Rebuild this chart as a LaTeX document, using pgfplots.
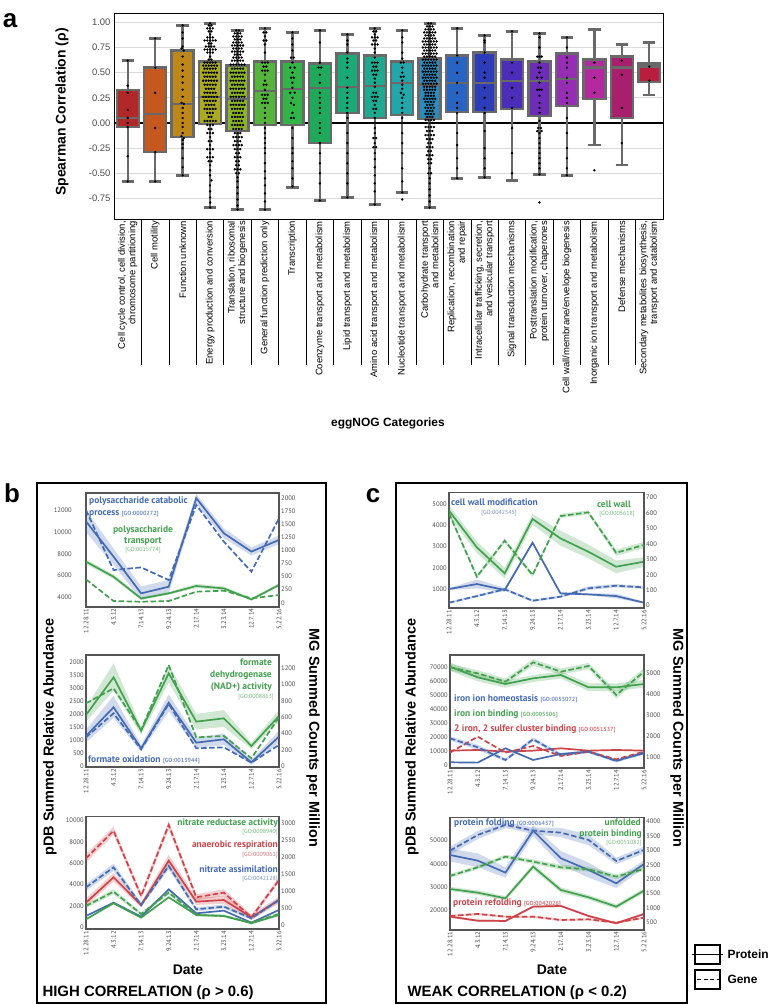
\documentclass[border=0pt]{standalone}
\usepackage{fontspec}
\setmainfont{Liberation Sans}
\newfontfamily\pts{PT Sans}
\usepackage{pgfplots}
\pgfplotsset{compat=1.18}
\usepgfplotslibrary{statistics}

\definecolor{bxgray}{RGB}{105,105,105}
\definecolor{tickgray}{RGB}{75,75,75}
\definecolor{framegray}{RGB}{85,85,85}
\definecolor{pb}{RGB}{68,106,178}
\definecolor{pg}{RGB}{66,160,78}
\definecolor{pr}{RGB}{205,67,73}
\definecolor{ca}{RGB}{178,40,40}
\definecolor{cb}{RGB}{196,88,30}
\definecolor{cc}{RGB}{190,135,25}
\definecolor{cd}{RGB}{170,170,35}
\definecolor{ce}{RGB}{140,180,40}
\definecolor{cf}{RGB}{85,180,60}
\definecolor{cg}{RGB}{50,180,70}
\definecolor{ch}{RGB}{30,170,90}
\definecolor{ci}{RGB}{25,170,120}
\definecolor{cj}{RGB}{30,170,145}
\definecolor{ck}{RGB}{35,165,170}
\definecolor{cl}{RGB}{40,140,190}
\definecolor{cm}{RGB}{40,100,195}
\definecolor{cn}{RGB}{45,60,185}
\definecolor{co}{RGB}{75,45,185}
\definecolor{cp}{RGB}{110,45,185}
\definecolor{cq}{RGB}{150,45,180}
\definecolor{cr}{RGB}{180,40,160}
\definecolor{cs}{RGB}{170,30,110}
\definecolor{ct}{RGB}{185,30,60}

\newcommand\tickf{\pts\fontsize{6.6}{7}\selectfont}
\newcommand\annf{\pts\bfseries\fontsize{9.5}{10}\selectfont}
\newcommand\gof{\pts\fontsize{6}{7}\selectfont}

% boxplot from its five numbers: position, lw, lq, median, uq, uw, colour
\newcommand\bx[7]{\addplot[boxplot prepared={draw position=#1, lower whisker=#2,
  lower quartile=#3, median=#4, upper quartile=#5, upper whisker=#6,
  box extend=0.8, whisker extend=0.45, draw direction=y}, draw=bxgray, line width=2.4bp, fill=#7, solid]
  coordinates {};}

\pgfplotsset{
  sub/.style={scale only axis, xmin=0, xmax=7, clip=true, tick pos=left,
    xtick={0,...,7},
    xticklabels={12.28.11,4.3.12,7.14.13,9.24.13,2.17.14,3.23.14,12.7.14,5.22.16},
    xticklabel style={rotate=90, anchor=east, font=\tickf, text=tickgray, inner sep=1.5bp},
    yticklabel style={font=\tickf, text=tickgray, inner sep=2bp},
    major tick length=0pt, scaled y ticks=false,
    axis line style={draw=framegray, line width=1.6bp},
    /pgf/number format/1000 sep={}, /pgf/number format/assume math mode=true},
  subr/.style={sub, axis x line=none, axis y line*=right, ytick pos=right, yticklabel pos=right},
  sol/.style={line width=1.7bp},
  das/.style={line width=1.7bp, dash pattern=on 5.5bp off 2.5bp},
  band/.style={draw=none, fill=#1, fill opacity=0.25},
}

\begin{document}
\begin{tikzpicture}
\useasboundingbox (0,0) rectangle (770bp,1005bp);

% ---------------- panel a ----------------
\begin{axis}[
  at={(114bp,786bp)}, anchor=south west, scale only axis,
  width=549bp, height=206bp,
  xmin=-0.5, xmax=19.5, ymin=-0.954, ymax=1.093,
  tick pos=left, tick align=outside,
  xtick={0,...,19}, major tick length=0pt,
  minor xtick={0.5,1.5,...,18.5}, minor tick length=146bp,
  minor x tick style={black, line width=0.7bp},
  xticklabels={{Cell cycle control, cell division,\\chromosome partitioning},
    Cell motility, Function unknown, Energy production and conversion,
    {Translation, ribosomal\\structure and biogenesis},
    General function prediction only, Transcription,
    Coenzyme transport and metabolism, Lipid transport and metabolism,
    Amino acid transport and metabolism, Nucleotide transport and metabolism,
    {Carbohydrate transport\\and metabolism},
    {Replication, recombination\\and repair},
    {Intracellular trafficking, secretion,\\and vesicular transport},
    Signal transduction mechanisms,
    {Posttranslation modification,\\protein turnover, chaperones},
    Cell wall/membrane/envelope biogenesis,
    Inorganic ion transport and metabolism, Defense mechanisms,
    {Secondary metabolites biosynthesis,\\transport and catabolism}},
  xticklabel style={rotate=90, anchor=east, align=right,
    font=\fontsize{9.5}{10.5}\selectfont, inner sep=2bp},
  ytick={-0.75,-0.5,-0.25,0,0.25,0.5,0.75,1},
  yticklabels={-0.75,-0.50,-0.25,0.00,0.25,0.50,0.75,1.00},
  yticklabel style={font=\fontsize{9.5}{10}\selectfont, text=tickgray},
  ymajorgrids, grid style={draw=gray!30, line width=1.1bp},
  axis line style={black, line width=0.9bp},
]
\addplot[black, line width=1.2bp] coordinates {(-0.5,0) (19.5,0)};

\bx{0}{-0.58}{-0.04}{0.05}{0.33}{0.62}{ca}
\bx{1}{-0.58}{-0.29}{0.09}{0.55}{0.84}{cb}
\bx{2}{-0.52}{-0.14}{0.19}{0.72}{0.97}{cc}
\bx{3}{-0.84}{-0.01}{0.26}{0.61}{0.99}{cd}
\bx{4}{-0.86}{-0.08}{0.24}{0.57}{0.92}{ce}
\bx{5}{-0.86}{-0.02}{0.32}{0.61}{0.94}{cf}
\bx{6}{-0.64}{-0.02}{0.34}{0.61}{0.90}{cg}
\bx{7}{-0.77}{-0.20}{0.35}{0.59}{0.92}{ch}
\bx{8}{-0.74}{0.10}{0.36}{0.69}{0.88}{ci}
\bx{9}{-0.81}{0.05}{0.37}{0.67}{0.94}{cj}
\bx{10}{-0.69}{0.08}{0.40}{0.61}{0.92}{ck}
\bx{11}{-0.84}{0.04}{0.38}{0.64}{0.99}{cl}
\bx{12}{-0.55}{0.11}{0.40}{0.67}{0.94}{cm}
\bx{13}{-0.54}{0.11}{0.40}{0.70}{0.87}{cn}
\bx{14}{-0.57}{0.14}{0.42}{0.63}{0.91}{co}
\bx{15}{-0.51}{0.07}{0.42}{0.61}{0.89}{cp}
\bx{16}{-0.52}{0.17}{0.44}{0.69}{0.85}{cq}
\bx{17}{-0.22}{0.24}{0.55}{0.63}{0.93}{cr}
\bx{18}{-0.42}{0.05}{0.55}{0.66}{0.78}{cs}
\bx{19}{0.28}{0.41}{0.56}{0.59}{0.80}{ct}

% swarm points, sparse categories
\addplot[only marks, mark=*, mark size=1bp, black] coordinates {
(0,.62)(0,.37)(0,.30)(0,.13)(0,.05)(0,0)(0,-.04)(0,-.33)(0,-.58)
(1,.84)(1,.55)(1,.30)(1,-.05)(1,-.29)(1,-.58)
(2,.97)(2,.90)(2,.84)(2,.76)(1.96,.74)(2.04,.72)(2,.66)(2,.58)(2,.52)(2,.46)(2,.40)
(2,.33)(2,.26)(1.96,.20)(2.04,.19)(2,.15)(2,.10)(2,.05)(2,0)(2,-.04)(2,-.10)(1.96,-.13)
(2.04,-.15)(2,-.17)(2,-.21)(2,-.25)(2,-.35)(2,-.44)(2,-.52)
(5,.94)(4.95,.9)(5.05,.9)(5,.86)(4.95,.82)(5.05,.82)(5,.78)(5,.7)(4.9,.6)(5,.6)(5.1,.6)
(4.95,.56)(5.05,.56)(4.9,.52)(5,.52)(5.1,.52)(5,.48)(5,.42)(4.95,.38)(5.05,.38)(5,.33)
(4.9,.28)(5,.28)(5.1,.28)(4.95,.24)(5.05,.24)(4.9,.2)(5,.2)(5.1,.2)(5,.15)(5,.1)(5,.05)
(5,0)(5,-.05)(5,-.1)(5,-.15)(5,-.2)(5,-.25)(5,-.3)(5,-.4)(5,-.48)(5,-.55)(5,-.62)(5,-.7)(5,-.78)(5,-.86)
(6,.9)(6,.84)(6,.78)(6,.72)(5.95,.65)(6.05,.65)(6,.6)(5.92,.55)(6.08,.55)(6,.5)(5.95,.45)
(6.05,.45)(6,.4)(6,.35)(5.92,.3)(6.08,.3)(6,.25)(5.95,.2)(6.05,.18)(6,.1)(5.95,.05)(6.05,.05)
(6,-.05)(6,-.15)(6,-.25)(6,-.3)(6,-.38)(6,-.45)(6,-.55)(6,-.63)
(7,.92)(7,.8)(7,.6)(6.95,.55)(7.05,.55)(7,.48)(7,.4)(7,.3)(7,.25)(7,.2)(7,.15)(7,.1)
(7,0)(7,-.05)(7,-.1)(7,-.2)(7,-.3)(7,-.4)(7,-.5)(7,-.6)(7,-.77)
(8,.88)(8,.82)(8,.78)(8,.7)(8,.64)(8,.6)(8,.55)(8,.45)(8,.35)(8,.3)(8,.25)(8,.2)(8,.15)
(8,.1)(8,.05)(8,-.1)(8,-.2)(8,-.3)(8,-.4)(8,-.5)(8,-.6)(8,-.74)
(9,.94)(8.95,.91)(9.05,.91)(9,.88)(8.9,.85)(9,.85)(9.1,.85)(8.95,.82)(9.05,.82)(8.9,.78)(9,.78)
(9.1,.78)(9,.74)(9,.7)(9,.65)(8.9,.6)(9,.6)(9.1,.6)(8.95,.56)(9.05,.56)(8.9,.52)(9,.52)
(9.1,.52)(8.95,.48)(9.05,.48)(9,.44)(9,.4)(9,.36)(8.95,.3)(9.05,.3)(8.9,.26)(9,.26)(9.1,.26)
(8.95,.22)(9.05,.22)(9,.18)(8.95,.14)(9.05,.14)(9,.1)(9,.05)(9,0)(9,-.05)(9,-.1)(8.95,-.15)
(9.05,-.15)(9,-.2)(8.95,-.24)(9.05,-.24)(9,-.3)(9,-.36)(9,-.44)(9,-.52)(9,-.6)(9,-.68)(9,-.81)
(10,.92)(10,.85)(10,.8)(10,.7)(10,.64)(9.95,.6)(10.05,.6)(10,.55)(10,.5)(9.95,.46)(10.05,.46)
(10,.42)(10,.38)(10,.34)(9.95,.3)(10.05,.28)(10,.25)(10,.2)(10,.15)(10,.1)(10,.05)(10,0)
(10,-.1)(10,-.2)(10,-.3)(10,-.45)(10,-.58)(10,-.69)(10,-.76)
(12,.94)(12,.67)(12,.6)(12,.5)(12,.4)(12,.3)(12,.2)(12,.15)(12,.1)(12,-.1)(12,-.22)(12,-.35)(12,-.45)(12,-.55)
(13,.87)(13,.82)(13,.8)(13,.7)(13,.6)(13,.5)(13,.45)(13,.35)(13,.25)(13,.15)(13,.1)
(13,-.08)(13,-.25)(13,-.35)(13,-.45)(13,-.54)
(14,.91)(14,.6)(14,.5)(14,.35)(14,.25)(14,.15)(14,-.05)(14,-.3)(14,-.5)
(15,.89)(15,.85)(15,.75)(14.92,.66)(15,.66)(15.08,.66)(15,.6)(14.95,.55)(15.05,.55)(15,.5)
(14.92,.45)(15.08,.45)(15,.4)(14.92,.33)(15,.33)(15.08,.33)(15,.27)(15,.2)(15,.15)(15,.1)
(15,.02)(14.95,-.05)(15.05,-.05)(14.92,-.08)(15.08,-.08)(15,-.1)(15,-.15)(15,-.2)(15,-.25)
(15,-.3)(15,-.35)(15,-.4)(15,-.45)(15,-.51)(15,-.79)
(16,.85)(16,.75)(16,.65)(16,.6)(16,.55)(16,.45)(16,.4)(16,.3)(16,.25)(16,.2)(16,.05)
(16,-.1)(16,-.25)(16,-.35)(16,-.45)(16,-.52)
(17,.6)(17,.45)(17,.3)(17,-.47)
(18,.62)(18,.48)(18,.15)(18,-.2)
(19,.56)(19,.42)
};
% swarm points, energy production
\addplot[only marks, mark=*, mark size=1bp, black] coordinates {
(3,.99)(2.95,.97)(3.05,.97)(2.9,.94)(3,.94)(3.1,.94)(2.95,.91)(3.05,.91)(3,.88)(2.9,.85)
(3,.85)(3.1,.85)(2.8,.82)(2.9,.82)(3,.82)(3.1,.82)(3.2,.82)(2.95,.79)(3.05,.79)(2.85,.76)
(2.95,.76)(3.05,.76)(3.15,.76)(2.8,.73)(2.9,.73)(3,.73)(3.1,.73)(3.2,.73)(2.9,.7)(3,.7)
(3.1,.7)(3,.66)(2.95,.63)(3.05,.63)(2.8,.6)(2.9,.6)(3,.6)(3.1,.6)(3.2,.6)(2.75,.57)
(2.85,.57)(2.95,.57)(3.05,.57)(3.15,.57)(3.25,.57)(2.8,.54)(2.9,.54)(3,.54)(3.1,.54)(3.2,.54)
(2.75,.5)(2.85,.5)(2.95,.5)(3.05,.5)(3.15,.5)(3.25,.5)(2.8,.46)(2.9,.46)(3,.46)(3.1,.46)
(3.2,.46)(2.75,.42)(2.85,.42)(2.95,.42)(3.05,.42)(3.15,.42)(3.25,.42)(2.8,.38)(2.9,.38)(3,.38)
(3.1,.38)(3.2,.38)(2.85,.34)(2.95,.34)(3.05,.34)(3.15,.34)(2.8,.3)(2.9,.3)(3,.3)(3.1,.3)
(3.2,.3)(2.75,.26)(2.85,.26)(2.95,.26)(3.05,.26)(3.15,.26)(3.25,.26)(2.8,.22)(2.9,.22)(3,.22)
(3.1,.22)(3.2,.22)(2.85,.18)(2.95,.18)(3.05,.18)(3.15,.18)(2.8,.14)(2.9,.14)(3,.14)(3.1,.14)
(3.2,.14)(2.9,.1)(3,.1)(3.1,.1)(2.95,.06)(3.05,.06)(2.8,.02)(2.9,.02)(3,.02)(3.1,.02)
(3.2,.02)(2.9,-.02)(3,-.02)(3.1,-.02)(2.95,-.06)(3.05,-.06)(2.9,-.1)(3,-.1)(3.1,-.1)(3,-.14)
(2.95,-.18)(3.05,-.18)(3,-.22)(2.9,-.26)(3,-.26)(3.1,-.26)(3,-.3)(2.9,-.34)(3,-.34)(3.1,-.34)
(2.95,-.38)(3.05,-.38)(3,-.42)(3,-.47)(3,-.52)(3.05,-.57)(3,-.62)(3,-.68)(3,-.74)(3,-.79)(3,-.84)
};
% swarm points, translation
\addplot[only marks, mark=*, mark size=1bp, black] coordinates {
(3.95,.92)(4.05,.92)(3.9,.89)(4,.89)(4.1,.89)(3.85,.86)(3.95,.86)(4.05,.86)(4.15,.86)
(3.9,.83)(4,.83)(4.1,.83)(3.85,.8)(3.95,.8)(4.05,.8)(4.15,.8)(3.8,.77)(3.9,.77)(4,.77)
(4.1,.77)(4.2,.77)(3.85,.74)(3.95,.74)(4.05,.74)(4.15,.74)(3.8,.71)(3.9,.71)(4,.71)(4.1,.71)
(4.2,.71)(3.9,.68)(4,.68)(4.1,.68)(3.85,.65)(3.95,.65)(4.05,.65)(4.15,.65)(3.8,.62)(3.9,.62)
(4,.62)(4.1,.62)(4.2,.62)(3.75,.58)(3.85,.58)(3.95,.58)(4.05,.58)(4.15,.58)(4.25,.58)
(3.8,.54)(3.9,.54)(4,.54)(4.1,.54)(4.2,.54)(3.75,.5)(3.85,.5)(3.95,.5)(4.05,.5)(4.15,.5)
(4.25,.5)(3.8,.46)(3.9,.46)(4,.46)(4.1,.46)(4.2,.46)(3.75,.42)(3.85,.42)(3.95,.42)(4.05,.42)
(4.15,.42)(4.25,.42)(3.8,.38)(3.9,.38)(4,.38)(4.1,.38)(4.2,.38)(3.75,.34)(3.85,.34)(3.95,.34)
(4.05,.34)(4.15,.34)(4.25,.34)(3.8,.3)(3.9,.3)(4,.3)(4.1,.3)(4.2,.3)(3.75,.26)(3.85,.26)
(3.95,.26)(4.05,.26)(4.15,.26)(4.25,.26)(3.8,.22)(3.9,.22)(4,.22)(4.1,.22)(4.2,.22)(3.75,.18)
(3.85,.18)(3.95,.18)(4.05,.18)(4.15,.18)(4.25,.18)(3.8,.14)(3.9,.14)(4,.14)(4.1,.14)(4.2,.14)
(3.85,.1)(3.95,.1)(4.05,.1)(4.15,.1)(3.8,.06)(3.9,.06)(4,.06)(4.1,.06)(4.2,.06)(3.85,.02)
(3.95,.02)(4.05,.02)(4.15,.02)(3.8,-.02)(3.9,-.02)(4,-.02)(4.1,-.02)(4.2,-.02)(3.85,-.06)
(3.95,-.06)(4.05,-.06)(4.15,-.06)(3.9,-.1)(4,-.1)(4.1,-.1)(3.85,-.14)(3.95,-.14)(4.05,-.14)
(4.15,-.14)(3.9,-.18)(4,-.18)(4.1,-.18)(3.85,-.22)(3.95,-.22)(4.05,-.22)(4.15,-.22)(3.9,-.26)
(4,-.26)(4.1,-.26)(3.95,-.3)(4.05,-.3)(3.9,-.34)(4,-.34)(4.1,-.34)(3.95,-.38)(4.05,-.38)
(3.95,-.42)(4.05,-.42)(3.9,-.46)(4,-.46)(4.1,-.46)(3.95,-.5)(4.05,-.5)(4,-.54)(4,-.58)
(4,-.64)(4,-.7)(4,-.76)(4,-.82)(4,-.86)
};
% swarm points, carbohydrate transport
\addplot[only marks, mark=*, mark size=1bp, black] coordinates {
(10.95,.99)(11.05,.99)(10.9,.96)(11,.96)(11.1,.96)(10.85,.93)(10.95,.93)(11.05,.93)(11.15,.93)
(10.8,.9)(10.9,.9)(11,.9)(11.1,.9)(11.2,.9)(10.85,.87)(10.95,.87)(11.05,.87)(11.15,.87)
(10.8,.84)(10.9,.84)(11,.84)(11.1,.84)(11.2,.84)(10.75,.81)(10.85,.81)(10.95,.81)(11.05,.81)
(11.15,.81)(11.25,.81)(10.8,.78)(10.9,.78)(11,.78)(11.1,.78)(11.2,.78)(10.75,.75)(10.85,.75)
(10.95,.75)(11.05,.75)(11.15,.75)(11.25,.75)(10.8,.72)(10.9,.72)(11,.72)(11.1,.72)(11.2,.72)
(10.75,.69)(10.85,.69)(10.95,.69)(11.05,.69)(11.15,.69)(11.25,.69)(10.8,.66)(10.9,.66)(11,.66)
(11.1,.66)(11.2,.66)(10.75,.63)(10.85,.63)(10.95,.63)(11.05,.63)(11.15,.63)(11.25,.63)(10.8,.6)
(10.9,.6)(11,.6)(11.1,.6)(11.2,.6)(10.75,.57)(10.85,.57)(10.95,.57)(11.05,.57)(11.15,.57)
(11.25,.57)(10.8,.54)(10.9,.54)(11,.54)(11.1,.54)(11.2,.54)(10.75,.51)(10.85,.51)(10.95,.51)
(11.05,.51)(11.15,.51)(11.25,.51)(10.8,.48)(10.9,.48)(11,.48)(11.1,.48)(11.2,.48)(10.75,.45)
(10.85,.45)(10.95,.45)(11.05,.45)(11.15,.45)(11.25,.45)(10.8,.42)(10.9,.42)(11,.42)(11.1,.42)
(11.2,.42)(10.75,.39)(10.85,.39)(10.95,.39)(11.05,.39)(11.15,.39)(11.25,.39)(10.8,.36)(10.9,.36)
(11,.36)(11.1,.36)(11.2,.36)(10.8,.33)(10.9,.33)(11,.33)(11.1,.33)(11.2,.33)(10.85,.3)(10.95,.3)
(11.05,.3)(11.15,.3)(10.85,.27)(10.95,.27)(11.05,.27)(11.15,.27)(10.8,.24)(10.9,.24)(11,.24)
(11.1,.24)(11.2,.24)(10.85,.21)(10.95,.21)(11.05,.21)(11.15,.21)(10.9,.18)(11,.18)(11.1,.18)
(10.85,.15)(10.95,.15)(11.05,.15)(11.15,.15)(10.9,.12)(11,.12)(11.1,.12)(10.85,.09)(10.95,.09)
(11.05,.09)(11.15,.09)(10.9,.06)(11,.06)(11.1,.06)(10.85,.03)(10.95,.03)(11.05,.03)(11.15,.03)
(10.9,0)(11,0)(11.1,0)(10.85,-.04)(10.95,-.04)(11.05,-.04)(11.15,-.04)(10.9,-.08)(11,-.08)
(11.1,-.08)(10.85,-.12)(10.95,-.12)(11.05,-.12)(11.15,-.12)(10.9,-.16)(11,-.16)(11.1,-.16)
(10.95,-.2)(11.05,-.2)(10.9,-.24)(11,-.24)(11.1,-.24)(10.95,-.28)(11.05,-.28)(10.9,-.32)
(11,-.32)(11.1,-.32)(10.95,-.36)(11.05,-.36)(10.95,-.4)(11.05,-.4)(11,-.45)(10.95,-.5)
(11.05,-.5)(11,-.55)(11,-.6)(11,-.66)(11,-.72)(11,-.78)(11,-.84)
};
\end{axis}

\node[anchor=base, font=\bfseries\fontsize{26}{26}\selectfont] at (10bp,977bp) {a};
\node[rotate=90, font=\bfseries\fontsize{14}{14}\selectfont] at (62bp,893bp) {Spearman Correlation (ρ)};
\node[font=\bfseries\fontsize{12}{12}\selectfont] at (388bp,582bp) {eggNOG Categories};

% ---------------- panel b ----------------
\draw[black, line width=1.3bp] (37bp,2bp) rectangle (326bp,522bp);
\node[anchor=base, font=\bfseries\fontsize{26}{26}\selectfont] at (12bp,502bp) {b};

% b1 polysaccharide
\begin{axis}[sub, at={(86bp,398bp)}, width=193bp, height=114bp,
  ymin=3118, ymax=13609, ytick={4000,6000,...,12000}, yticklabel style={xshift=-12bp}]
\addplot[band=pb] coordinates {(0,12000)(1,8500)(2,5000)(3,5600)(4,13500)(5,10350)(6,8600)(7,9700)
  (7,8900)(6,7850)(5,9450)(4,12600)(3,4400)(2,3800)(1,7000)(0,10000)};
\addplot[band=pg] coordinates {(0,7500)(1,6100)(2,4050)(3,4500)(4,5250)(5,5000)(6,3950)(7,5300)
  (7,5000)(6,3700)(5,4650)(4,4850)(3,4250)(2,3750)(1,5700)(0,7050)};
\addplot[sol, pb] coordinates {(0,11000)(1,7750)(2,4370)(3,4985)(4,13140)(5,9900)(6,8215)(7,9290)};
\addplot[sol, pg] coordinates {(0,7290)(1,5900)(2,3900)(3,4370)(4,5050)(5,4830)(6,3815)(7,5140)};
\end{axis}
\begin{axis}[subr, at={(86bp,398bp)}, width=193bp, height=114bp,
  ymin=-82, ymax=2102, ytick={0,250,...,2000}]
\addplot[das, pb] coordinates {(0,1776)(1,626)(2,677)(3,434)(4,1872)(5,1170)(6,594)(7,1617)};
\addplot[das, pg] coordinates {(0,447)(1,32)(2,19)(3,32)(4,211)(5,230)(6,83)(7,147)};
\end{axis}

% b2 formate
\begin{axis}[sub, at={(86bp,237.7bp)}, width=193bp, height=112.3bp,
  ymin=-51, ymax=4269, ytick={0,500,...,4000},
  yticklabels={0,500,1000,1500,2000,2500,3000,3500,2000}]
\addplot[band=pg] coordinates {(0,2250)(1,3950)(2,1500)(3,3900)(4,2000)(5,2150)(6,900)(7,2150)
  (7,1700)(6,650)(5,1500)(4,1400)(3,3200)(2,1200)(1,2900)(0,1700)};
\addplot[band=pb] coordinates {(0,1400)(1,2700)(2,800)(3,2750)(4,1100)(5,1250)(6,250)(7,1350)
  (7,900)(6,50)(5,800)(4,700)(3,2100)(2,550)(1,1850)(0,900)};
\addplot[sol, pg] coordinates {(0,1961)(1,3410)(2,1359)(3,3564)(4,1705)(5,1833)(6,769)(7,1923)};
\addplot[sol, pb] coordinates {(0,1154)(1,2256)(2,679)(3,2436)(4,897)(5,1026)(6,141)(7,1128)};
\end{axis}
\begin{axis}[subr, at={(86bp,237.7bp)}, width=193bp, height=112.3bp,
  ymin=-16, ymax=1364, ytick={0,200,...,1200}]
\addplot[das, pg] coordinates {(0,770)(1,954)(2,442)(3,1241)(4,352)(5,369)(6,94)(7,598)};
\addplot[das, pb] coordinates {(0,352)(1,647)(2,205)(3,762)(4,217)(5,229)(6,41)(7,258)};
\end{axis}

% b3 nitrate
\begin{axis}[sub, at={(86bp,75.7bp)}, width=193bp, height=112.6bp,
  ymin=-188, ymax=10375, ytick={0,2000,...,10000}]
\addplot[band=pr] coordinates {(0,2700)(1,5100)(2,2350)(3,6800)(4,2750)(5,2950)(6,1150)(7,2900)
  (7,2250)(6,700)(5,2200)(4,2100)(3,5700)(2,1850)(1,4300)(0,1950)};
\addplot[sol, pr] coordinates {(0,2312)(1,4687)(2,2094)(3,6250)(4,2406)(5,2562)(6,937)(7,2562)};
\addplot[sol, pb] coordinates {(0,1062)(1,2312)(2,1000)(3,3562)(4,1312)(5,1562)(6,437)(7,1625)};
\addplot[sol, pg] coordinates {(0,750)(1,2250)(2,906)(3,2812)(4,1156)(5,1062)(6,375)(7,1156)};
\end{axis}
\begin{axis}[subr, at={(86bp,75.7bp)}, width=193bp, height=112.6bp,
  ymin=-127, ymax=3176, ytick={0,500,...,3000},
  yticklabels={0,500,1000,1500,2000,2550,3000}]
\addplot[band=pr] coordinates {(0,2080)(1,2880)(2,950)(3,3050)(4,900)(5,1050)(6,300)(7,1400)
  (7,1240)(6,150)(5,850)(4,720)(3,2800)(2,750)(1,2650)(0,1830)};
\addplot[band=pb] coordinates {(0,1200)(1,1800)(2,650)(3,1830)(4,520)(5,600)(6,240)(7,800)
  (7,670)(6,150)(5,480)(4,400)(3,1630)(2,520)(1,1580)(0,1000)};
\addplot[band=pg] coordinates {(0,620)(1,1050)(2,370)(3,1010)(4,340)(5,310)(6,100)(7,370)
  (7,275)(6,40)(5,220)(4,250)(3,890)(2,275)(1,900)(0,495)};
\addplot[das, pr] coordinates {(0,1954)(1,2765)(2,850)(3,2931)(4,811)(5,948)(6,225)(7,1319)};
\addplot[das, pb] coordinates {(0,1104)(1,1690)(2,586)(3,1729)(4,459)(5,537)(6,195)(7,733)};
\addplot[das, pg] coordinates {(0,557)(1,977)(2,322)(3,948)(4,293)(5,264)(6,68)(7,322)};
\end{axis}

% panel b texts
\node[anchor=west, inner sep=0, font=\annf, text=pb] at (89bp,504bp) {polysaccharide catabolic};
\node[anchor=west, inner sep=0, text=pb] at (89bp,491bp) {\annf process {\gof\color{pb!75}[GO:0000272]}};
\node[inner sep=0, font=\annf, text=pg] at (143bp,475bp) {polysaccharide};
\node[inner sep=0, font=\annf, text=pg] at (143bp,464bp) {transport};
\node[inner sep=0, font=\gof, text=pg!75] at (143bp,455bp) {[GO:0015774]};
\node[anchor=east, inner sep=0, font=\annf, text=pg] at (272bp,342.3bp) {formate};
\node[anchor=east, inner sep=0, font=\annf, text=pg] at (272bp,330bp) {dehydrogenase};
\node[anchor=east, inner sep=0, font=\annf, text=pg] at (272bp,318.3bp) {(NAD+) activity};
\node[anchor=east, inner sep=0, font=\gof, text=pg!75] at (274bp,307.7bp) {[GO:0008863]};
\node[anchor=west, inner sep=0, text=pb] at (88bp,245bp) {\annf formate oxidation {\gof\color{pb!75}[GO:0015944]}};
\node[anchor=east, inner sep=0, font=\annf, text=pg] at (278bp,182.3bp) {nitrate reductase activity};
\node[anchor=east, inner sep=0, font=\gof, text=pg!75] at (278bp,172.7bp) {[GO:0008940]};
\node[anchor=east, inner sep=0, font=\annf, text=pr] at (278bp,160bp) {anaerobic respiration};
\node[anchor=east, inner sep=0, font=\gof, text=pr!75] at (278bp,150bp) {[GO:0009061]};
\node[anchor=east, inner sep=0, font=\annf, text=pb] at (278bp,135.7bp) {nitrate assimilation};
\node[anchor=east, inner sep=0, font=\gof, text=pb!75] at (278bp,125.7bp) {[GO:0042128]};

\node[rotate=90, font=\bfseries\fontsize{14.5}{14.5}\selectfont] at (50bp,268bp) {pDB Summed Relative Abundance};
\node[rotate=-90, font=\bfseries\fontsize{14.5}{14.5}\selectfont] at (313bp,267bp) {MG Summed Counts per Million};
\node[font=\bfseries\fontsize{14}{14}\selectfont] at (188bp,35bp) {Date};
\node[anchor=west, font=\bfseries\fontsize{15}{15}\selectfont] at (39bp,12bp) {HIGH CORRELATION (ρ > 0.6)};

% ---------------- panel c ----------------
\draw[black, line width=1.3bp] (396bp,2bp) rectangle (687bp,522bp);
\node[anchor=base, font=\bfseries\fontsize{26}{26}\selectfont] at (373bp,502bp) {c};

% c1 cell wall
\begin{axis}[sub, at={(449bp,396.7bp)}, width=195bp, height=115.6bp,
  ymin=90, ymax=5551, ytick={1000,2000,...,5000}]
\addplot[band=pg] coordinates {(0,4950)(1,3250)(2,2000)(3,4550)(4,3750)(5,3100)(6,2350)(7,2500)
  (7,2050)(6,1750)(5,2450)(4,3050)(3,4050)(2,1500)(1,2700)(0,4450)};
\addplot[band=pb] coordinates {(0,1050)(1,1450)(2,1050)(3,3250)(4,850)(5,800)(6,780)(7,400)
  (7,310)(6,560)(5,700)(4,750)(3,3130)(2,860)(1,1030)(0,950)};
\addplot[sol, pg] coordinates {(0,4701)(1,2968)(2,1740)(3,4307)(4,3394)(5,2764)(6,2055)(7,2291)};
\addplot[sol, pb] coordinates {(0,1000)(1,1236)(2,953)(3,3189)(4,795)(5,748)(6,669)(7,354)};
\end{axis}
\begin{axis}[subr, at={(449bp,396.7bp)}, width=195bp, height=115.6bp,
  ymin=-17, ymax=730, ytick={0,100,...,700}]
\addplot[band=pg] coordinates {(0,612)(1,200)(2,433)(3,211)(4,592)(5,616)(6,362)(7,412)
  (7,372)(6,322)(5,590)(4,566)(3,185)(2,407)(1,174)(0,582)};
\addplot[band=pb] coordinates {(0,25)(1,70)(2,115)(3,40)(4,66)(5,125)(6,140)(7,128)
  (7,108)(6,118)(5,100)(4,50)(3,24)(2,97)(1,54)(0,13)};
\addplot[das, pg] coordinates {(0,597)(1,187)(2,420)(3,198)(4,579)(5,603)(6,342)(7,392)};
\addplot[das, pb] coordinates {(0,19)(1,62)(2,106)(3,32)(4,58)(5,112)(6,129)(7,118)};
\end{axis}

% c2 iron
\begin{axis}[sub, at={(450bp,236.7bp)}, width=194bp, height=113.3bp,
  ymin=-2389, ymax=78840, ytick={0,10000,...,70000}]
\addplot[band=pg] coordinates {(0,73500)(1,65500)(2,60500)(3,64500)(4,67000)(5,58500)(6,58500)(7,61000)
  (7,55500)(6,53000)(5,53000)(4,62000)(3,59500)(2,55500)(1,60000)(0,67500)};
\addplot[sol, pg] coordinates {(0,70475)(1,62830)(2,58050)(3,62110)(4,64500)(5,55660)(6,55660)(7,58050)};
\addplot[sol, pr] coordinates {(0,10272)(1,10750)(2,9556)(3,10272)(4,11945)(5,10272)(6,10750)(7,10272)};
\addplot[sol, pb] coordinates {(0,1911)(1,1672)(2,11945)(3,3583)(4,7884)(5,9556)(6,3106)(7,8361)};
\end{axis}
\begin{axis}[subr, at={(450bp,236.7bp)}, width=194bp, height=113.3bp,
  ymin=476, ymax=5873, ytick={1000,2000,...,5000}]
\addplot[band=pg] coordinates {(0,5450)(1,5150)(2,4750)(3,5680)(4,5230)(5,5500)(6,4150)(7,5250)
  (7,4900)(6,3800)(5,5200)(4,4930)(3,5360)(2,4450)(1,4850)(0,5120)};
\addplot[band=pb] coordinates {(0,2000)(1,1600)(2,950)(3,1950)(4,1200)(5,1350)(6,900)(7,1300)
  (7,1140)(6,750)(5,1190)(4,1030)(3,1760)(2,800)(1,1350)(0,1800)};
\addplot[das, pg] coordinates {(0,5285)(1,5000)(2,4603)(3,5523)(4,5079)(5,5349)(6,3968)(7,5079)};
\addplot[das, pr] coordinates {(0,1222)(1,1984)(2,1222)(3,1539)(4,1063)(5,1270)(6,905)(7,1270)};
\addplot[das, pb] coordinates {(0,1904)(1,1476)(2,873)(3,1857)(4,1111)(5,1270)(6,825)(7,1222)};
\end{axis}

% c3 protein folding
\begin{axis}[sub, at={(450bp,75bp)}, width=194bp, height=112.7bp,
  ymin=11346, ymax=60096, ytick={20000,30000,40000,50000}]
\addplot[band=pb] coordinates {(0,46500)(1,44500)(2,38500)(3,56500)(4,45500)(5,40500)(6,33500)(7,41500)
  (7,38300)(6,29500)(5,34000)(4,39500)(3,52000)(2,34000)(1,38500)(0,41000)};
\addplot[band=pg] coordinates {(0,30000)(1,28500)(2,26000)(3,40000)(4,29800)(5,26500)(6,22500)(7,29400)
  (7,27300)(6,20400)(5,24500)(4,27500)(3,37500)(2,24100)(1,26500)(0,28200)};
\addplot[band=pr] coordinates {(0,17600)(1,15900)(2,15750)(3,21950)(4,22240)(5,17910)(6,14740)(7,18780)
  (7,17780)(6,13740)(5,16910)(4,21240)(3,20950)(2,14750)(1,14890)(0,16620)};
\addplot[sol, pb] coordinates {(0,43800)(1,41350)(2,36160)(3,54330)(4,42360)(5,37310)(6,31540)(7,39900)};
\addplot[sol, pg] coordinates {(0,29090)(1,27500)(2,25050)(3,38750)(4,28660)(5,25490)(6,21450)(7,28370)};
\addplot[sol, pr] coordinates {(0,17120)(1,15390)(2,15250)(3,21450)(4,21740)(5,17410)(6,14240)(7,18280)};
\end{axis}
\begin{axis}[subr, at={(450bp,75bp)}, width=194bp, height=112.7bp,
  ymin=233, ymax=4151, ytick={500,1000,...,4000}]
\addplot[band=pb] coordinates {(0,3130)(1,3680)(2,3980)(3,3800)(4,3780)(5,3550)(6,2750)(7,3130)
  (7,2900)(6,2520)(5,3180)(4,3460)(3,3570)(2,3780)(1,3390)(0,2850)};
\addplot[band=pg] coordinates {(0,2180)(1,2480)(2,2850)(3,2690)(4,2500)(5,2430)(6,2170)(7,2430)
  (7,2280)(6,2010)(5,2260)(4,2330)(3,2530)(2,2720)(1,2340)(0,2040)};
\addplot[band=pr] coordinates {(0,760)(1,830)(2,737)(3,737)(4,621)(5,644)(6,528)(7,702)
  (7,622)(6,448)(5,564)(4,541)(3,657)(2,657)(1,750)(0,680)};
\addplot[das, pb] coordinates {(0,2992)(1,3537)(2,3884)(3,3687)(4,3618)(5,3363)(6,2633)(7,3015)};
\addplot[das, pg] coordinates {(0,2111)(1,2412)(2,2783)(3,2609)(4,2412)(5,2343)(6,2088)(7,2354)};
\addplot[das, pr] coordinates {(0,720)(1,790)(2,697)(3,697)(4,581)(5,604)(6,488)(7,662)};
\end{axis}

% panel c texts
\node[anchor=west, inner sep=0, font=\annf, text=pb] at (451bp,502.3bp) {cell wall modification};
\node[inner sep=0, font=\gof, text=pb!75] at (499bp,492.3bp) {[GO:0042545]};
\node[anchor=east, inner sep=0, font=\annf, text=pg] at (631bp,500.7bp) {cell wall};
\node[anchor=east, inner sep=0, font=\gof, text=pg!75] at (635bp,490.7bp) {[GO:0005618]};
\node[anchor=west, inner sep=0, text=pb] at (454bp,306bp) {\annf iron ion homeostasis {\gof\color{pb!75}[GO:0055072]}};
\node[anchor=west, inner sep=0, text=pg] at (454bp,291bp) {\annf iron ion binding {\gof\color{pg!75}[GO:0005506]}};
\node[anchor=west, inner sep=0, text=pr] at (454bp,276bp) {\annf 2 iron, 2 sulfer cluster binding {\gof\color{pr!75}[GO:0051537]}};
\node[anchor=west, inner sep=0, text=pb] at (454bp,182.3bp) {\annf protein folding {\gof\color{pb!75}[GO:0006457]}};
\node[anchor=east, inner sep=0, font=\annf, text=pg] at (641bp,182.3bp) {unfolded};
\node[anchor=east, inner sep=0, font=\annf, text=pg] at (642bp,171bp) {protein binding};
\node[anchor=east, inner sep=0, font=\gof, text=pg!75] at (642bp,161.7bp) {[GO:0051082]};
\node[anchor=west, inner sep=0, text=pr] at (453bp,101.7bp) {\annf protein refolding {\gof\color{pr!75}[GO:0042026]}};

\node[rotate=90, font=\bfseries\fontsize{14.5}{14.5}\selectfont] at (412bp,268bp) {pDB Summed Relative Abundance};
\node[rotate=-90, font=\bfseries\fontsize{14.5}{14.5}\selectfont] at (677bp,267bp) {MG Summed Counts per Million};
\node[font=\bfseries\fontsize{14}{14}\selectfont] at (552bp,35bp) {Date};
\node[anchor=west, font=\bfseries\fontsize{15}{15}\selectfont] at (404bp,12bp) {WEAK CORRELATION (ρ < 0.2)};

% ---------------- legend ----------------
\draw[black, line width=1.1bp] (695bp,41bp) rectangle (720bp,60bp);
\draw[black, line width=1.8bp] (692bp,50.5bp) -- (723bp,50.5bp);
\node[anchor=west, font=\bfseries\fontsize{12}{12}\selectfont] at (724bp,50.5bp) {Protein};
\draw[black, line width=1.1bp] (695bp,16bp) rectangle (720bp,35bp);
\draw[black, line width=1.8bp, dash pattern=on 4bp off 2.5bp] (697bp,25.5bp) -- (719bp,25.5bp);
\node[anchor=west, font=\bfseries\fontsize{12}{12}\selectfont] at (724bp,25.5bp) {Gene};
\end{tikzpicture}
\end{document}
